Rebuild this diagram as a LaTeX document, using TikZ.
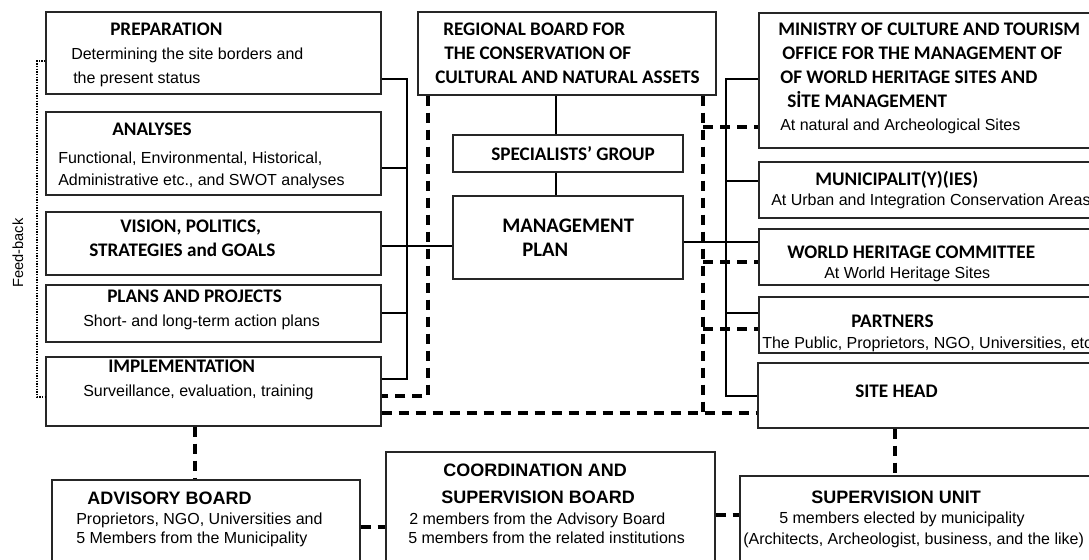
\documentclass[tikz,border=0pt]{standalone}
\usepackage{fontspec}
\setmainfont{Liberation Sans}
\newfontfamily\calfont{Carlito}
\usetikzlibrary{fit}
\newcommand\bodytxt{\fontsize{12}{18}\selectfont}
\newcommand\headtxt{\fontsize{14.4}{18}\selectfont\calfont\bfseries}
\newcommand\bigheadtxt{\fontsize{15.5}{18}\selectfont\calfont\bfseries}
\newcommand\headsans{\fontsize{13.5}{18}\selectfont\bfseries}
\begin{document}
\begin{tikzpicture}[x=0.75pt,y=-0.75pt,
  box/.style={draw=black!85,line width=1pt,inner sep=0pt},
  txt/.style={anchor=north west,inner sep=0pt,align=left,font=\bodytxt},
  link/.style={line width=0.8pt},
  dline/.style={line width=2.4pt,dash pattern=on 7.5pt off 5.25pt},
  fb/.style={line width=1.1pt,dash pattern=on 1pt off 1pt}]
\useasboundingbox (0,0) rectangle (1089,560);
\node[box,fit={(46,12) (381,94)}] (prep) {};
\node[box,fit={(46,112) (381,195)}] (anal) {};
\node[box,fit={(46,212) (381,275)}] (vision) {};
\node[box,fit={(46,285) (381,342)}] (plans) {};
\node[box,fit={(46,357) (381,426)}] (impl) {};
\node[box,fit={(418,12) (716,95)}] (regional) {};
\node[box,fit={(453,135) (683,172)}] (spec) {};
\node[box,fit={(453,196) (683,279)}] (mgmt) {};
\node[box,fit={(759,13) (1100,148)}] (ministry) {};
\node[box,fit={(759,162) (1100,218)}] (munic) {};
\node[box,fit={(759,229) (1100,285)}] (whc) {};
\node[box,fit={(759,297) (1100,353)}] (partners) {};
\node[box,fit={(758,363) (1100,428)}] (site) {};
\node[box,fit={(52,480) (360,575)}] (advisory) {};
\node[box,fit={(386,452) (715,575)}] (coord) {};
\node[box,fit={(740,476) (1100,575)}] (superv) {};

\node[txt] (prepT) at (71,22.6) {\hspace*{29.25pt}{\headtxt PREPARATION}\\Determining the site borders and\\\hspace*{1.5pt}the present status};
\node[txt] (analT) at (58,122.6) {\hspace*{40.5pt}{\headtxt ANALYSES}\\[3pt]Functional, Environmental, Historical,\\[-1.5pt]Administrative etc., and SWOT analyses};
\node[txt] (visT) at (89,219.6) {\hspace*{23.25pt}{\headtxt VISION, POLITICS,}\\{\headtxt STRATEGIES and GOALS}};
\node[txt] (planT) at (83,289.6) {\hspace*{18pt}{\headtxt PLANS AND PROJECTS}\\Short- and long-term action plans};
\node[txt] (implT) at (83,359.6) {\hspace*{18.75pt}{\headtxt IMPLEMENTATION}\\Surveillance, evaluation, training};
\node[txt] (regT) at (435,22.6) {\hspace*{6pt}{\headtxt REGIONAL BOARD FOR}\\\hspace*{6.75pt}{\headtxt THE CONSERVATION OF}\\{\headtxt CULTURAL AND NATURAL ASSETS}};
\node[anchor=base west,inner sep=0pt,font=\headtxt] (specT) at (491,160) {SPECIALISTS’ GROUP};
\node[txt] (mgmtT) at (502,218.7) {{\bigheadtxt MANAGEMENT}\\\hspace*{15pt}{\bigheadtxt PLAN}};
\node[txt] (minT) at (778,22.6) {{\headtxt MINISTRY OF CULTURE AND TOURISM}\\\hspace*{3pt}{\headtxt OFFICE FOR THE MANAGEMENT OF}\\\hspace*{1.5pt}{\headtxt OF WORLD HERITAGE SITES AND}\\\hspace*{6.75pt}{\headtxt SİTE MANAGEMENT}\\[-0.75pt]\hspace*{1.5pt}At natural and Archeological Sites};
\node[txt] (munT) at (771,170.6) {\hspace*{33pt}{\headtxt MUNICIPALIT(Y)(IES)}\\[-3pt]At Urban and Integration Conservation Areas};
\node[txt] (whcT) at (787,245.6) {{\headtxt WORLD HERITAGE COMMITTEE}\\[-3pt]\hspace*{27.75pt}At World Heritage Sites};
\node[txt] (partT) at (762,314.6) {\hspace*{66.75pt}{\headtxt PARTNERS}\\[-2.25pt]The Public, Proprietors, NGO, Universities, etc};
\node[anchor=base west,inner sep=0pt,font=\headtxt] (siteT) at (855,397) {SITE HEAD};
\node[txt] (advT) at (76,492.1) {\hspace*{8.25pt}{\headsans ADVISORY BOARD}\\[-3pt]Proprietors, NGO, Universities and\\[-3.75pt]5 Members from the Municipality};
\node[txt] (coordT) at (408,464.1) {\hspace*{26.25pt}{\headsans COORDINATION AND}\\[2.25pt]\hspace*{24.75pt}{\headsans SUPERVISION BOARD}\\[-2.25pt]\hspace*{0.75pt}2 members from the Advisory Board\\[-3.75pt]5 members from the related institutions};
\node[txt] (supT) at (743,491.1) {\hspace*{51pt}{\headsans SUPERVISION UNIT}\\[-3pt]\hspace*{27pt}5 members elected by municipality\\[-2.25pt](Architects, Archeologist, business, and the like)};
\node[rotate=90,font=\fontsize{11}{13}\selectfont] (fbT) at (18,253) {Feed-back};

\coordinate (lbTop) at (407,79);
\coordinate (lbAnal) at (407,168);
\coordinate (lbVis) at (407,246);
\coordinate (lbPlan) at (407,313);
\coordinate (lbBot) at (407,379);
\draw[link] (prep.east |- lbTop) -- (lbTop) -- (lbBot) -- (impl.east |- lbBot);
\draw[link] (anal.east |- lbAnal) -- (lbAnal);
\draw[link] (plans.east |- lbPlan) -- (lbPlan);
\draw[link] (vision.east |- lbVis) -- (mgmt.west |- lbVis);
\coordinate (cx) at (556,0);
\draw[link] (regional.south -| cx) -- (spec.north -| cx);
\draw[link] (spec.south -| cx) -- (mgmt.north -| cx);
\coordinate (rbTop) at (726,79);
\coordinate (rbMun) at (726,181);
\coordinate (rbWhc) at (726,242);
\coordinate (rbPart) at (726,313);
\coordinate (rbBot) at (726,396);
\draw[link] (ministry.west |- rbTop) -- (rbTop) -- (rbBot) -- (site.west |- rbBot);
\draw[link] (munic.west |- rbMun) -- (rbMun);
\draw[link] (partners.west |- rbPart) -- (rbPart);
\draw[link] (mgmt.east |- rbWhc) -- (whc.west |- rbWhc);

\coordinate (ldBot) at (428,396);
\draw[dline] (regional.south -| ldBot) -- (ldBot) -- (impl.east |- ldBot);
\coordinate (rdMin) at (703,127);
\coordinate (rdWhc) at (703,262);
\coordinate (rdPart) at (703,329);
\coordinate (rdBot) at (703,413);
\draw[dline] (regional.south -| rdBot) -- (rdBot);
\draw[dline] (rdMin) -- (ministry.west |- rdMin);
\draw[dline] (rdWhc) -- (whc.west |- rdWhc);
\draw[dline] (rdPart) -- (partners.west |- rdPart);
\draw[dline] (impl.east |- rdBot) -- (site.west |- rdBot);
\coordinate (ax) at (195,0);
\draw[dline] (impl.south -| ax) -- (advisory.north -| ax);
\coordinate (acy) at (0,527);
\draw[dline] (advisory.east |- acy) -- (coord.west |- acy);
\coordinate (csy) at (0,515);
\draw[dline] (coord.east |- csy) -- (superv.west |- csy);
\coordinate (sx) at (895,0);
\draw[dline] (site.south -| sx) -- (superv.north -| sx);

\coordinate (fbTop) at (37,61);
\coordinate (fbBot) at (37,397);
\draw[fb] (prep.west |- fbTop) -- (fbTop) -- (fbBot) -- (impl.west |- fbBot);
\end{tikzpicture}
\end{document}
